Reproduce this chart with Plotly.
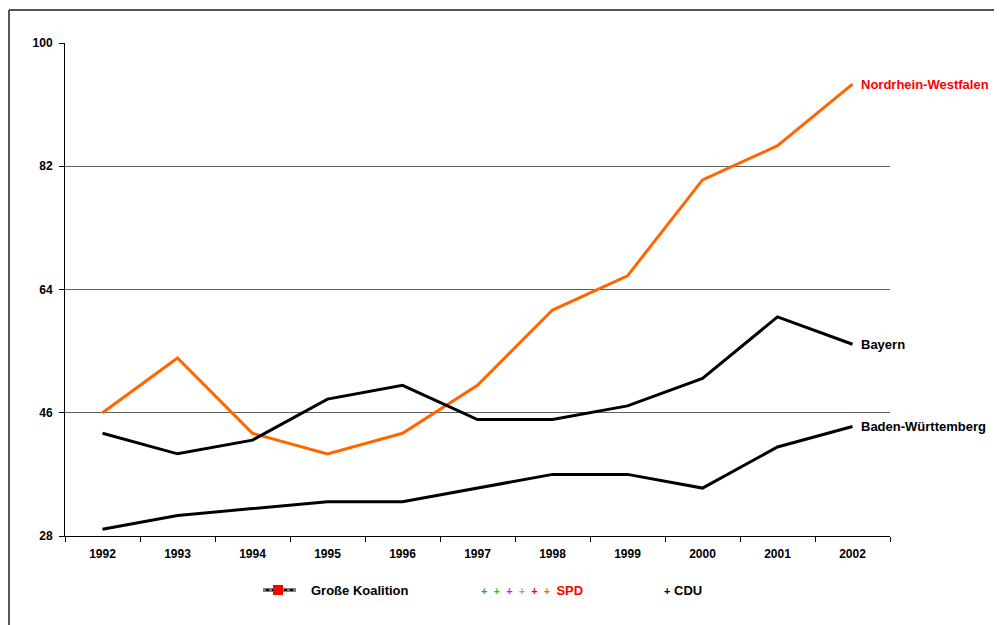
import plotly.graph_objects as go

years = ["1992", "1993", "1994", "1995", "1996", "1997", "1998", "1999", "2000", "2001", "2002"]
nrw = [46, 54, 43, 40, 43, 50, 61, 66, 80, 85, 94]
bayern = [43, 40, 42, 48, 50, 45, 45, 47, 51, 60, 56]
bw = [29, 31, 32, 33, 33, 35, 37, 37, 35, 41, 44]
y_ticks = [28, 46, 64, 82, 100]

FONT = "Arial, Liberation Sans, sans-serif"

OFF = 8  # page body margin
W, H = 1002, 625
L, R, T, B = 65 - OFF, 890 - OFF, 43 - OFF, 536 - OFF


def px(x):
    return (x - OFF - L) / (R - L)


def py(y):
    return (B - (y - OFF)) / (B - T)


fig = go.Figure()
fig.add_trace(go.Scatter(x=years, y=nrw, mode="lines", name="Nordrhein-Westfalen",
                         line=dict(color="#FF6600", width=3)))
fig.add_trace(go.Scatter(x=years, y=bayern, mode="lines", name="Bayern",
                         line=dict(color="#000000", width=3)))
fig.add_trace(go.Scatter(x=years, y=bw, mode="lines", name="Baden-Württemberg",
                         line=dict(color="#000000", width=3)))

labels = [("Nordrhein-Westfalen", nrw[-1], "#FF0000"),
          ("Bayern", bayern[-1], "#000000"),
          ("Baden-Württemberg", bw[-1], "#000000")]
for text, val, col in labels:
    fig.add_annotation(x=len(years) - 1, y=val, xref="x", yref="y", text="<b>" + text + "</b>",
                       showarrow=False, xanchor="left", yanchor="middle", xshift=6,
                       font=dict(family=FONT, size=13, color=col))

# legend-like footer
ly = py(590)
fig.add_annotation(x=px(309), y=ly, xref="paper", yref="paper", text="<b>Große Koalition</b>",
                   showarrow=False, xanchor="left", yanchor="middle",
                   font=dict(family=FONT, size=13, color="#000000"))
plus_colors = ["#339966", "#00DD00", "#FF00FF", "#99CC00", "#FF0000", "#FF6600"]
spd_text = "&nbsp;&nbsp;".join("<span style='color:%s'>+</span>" % c for c in plus_colors)
spd_text = "<b>" + spd_text + "&nbsp; <span style='color:#FF0000;font-size:13px'>SPD</span></b>"
fig.add_annotation(x=px(479), y=ly, xref="paper", yref="paper", text=spd_text,
                   showarrow=False, xanchor="left", yanchor="middle",
                   font=dict(family=FONT, size=11, color="#000000"))
fig.add_annotation(x=px(662), y=ly, xref="paper", yref="paper",
                   text="<b><span style='font-size:11px'>+</span> CDU</b>",
                   showarrow=False, xanchor="left", yanchor="middle",
                   font=dict(family=FONT, size=13, color="#000000"))

shapes = [
    # outer frame
    dict(type="line", xref="paper", yref="paper", x0=px(9), x1=px(1020), y0=py(10), y1=py(10),
         line=dict(color="#555555", width=2)),
    dict(type="line", xref="paper", yref="paper", x0=px(9), x1=px(9), y0=py(10), y1=py(650),
         line=dict(color="#555555", width=2)),
    # legend symbol for Große Koalition
    dict(type="line", xref="paper", yref="paper", x0=px(263), x1=px(296), y0=ly, y1=ly,
         line=dict(color="#000000", width=3)),
    dict(type="line", xref="paper", yref="paper", x0=px(263), x1=px(296), y0=ly, y1=ly,
         line=dict(color="#FFFFFF", width=1, dash="dot")),
    dict(type="rect", xref="paper", yref="paper", x0=px(273), x1=px(283), y0=py(595), y1=py(585),
         fillcolor="#FF0000", line=dict(width=0)),
]

fig.update_layout(
    width=W, height=H,
    margin=dict(l=L, r=W - R, t=T, b=H - B, pad=0),
    paper_bgcolor="#FFFFFF", plot_bgcolor="#FFFFFF",
    showlegend=False,
    shapes=shapes,
    font=dict(family=FONT, size=12, color="#000000"),
)
fig.update_xaxes(type="category", range=[-0.5, len(years) - 0.5], autorange=False,
                 tickson="boundaries", ticks="outside", ticklen=5,
                 tickvals=years, ticktext=["<b>%s</b>" % y for y in years], tickangle=0,
                 ticklabelstandoff=7,
                 tickcolor="#000000", showline=True, linecolor="#000000", linewidth=1,
                 showgrid=False, zeroline=False,
                 tickfont=dict(family=FONT, size=12, color="#000000"))
fig.update_yaxes(range=[28, 100], tickvals=y_ticks, ticktext=["<b>%d</b>" % v for v in y_ticks],
                 ticks="outside", ticklen=5, tickcolor="#000000", ticklabelstandoff=4,
                 showline=True, linecolor="#000000", linewidth=1,
                 showgrid=True, gridcolor="#606060", gridwidth=1, zeroline=False,
                 tickfont=dict(family=FONT, size=12, color="#000000"))

fig.write_html("out.html")
